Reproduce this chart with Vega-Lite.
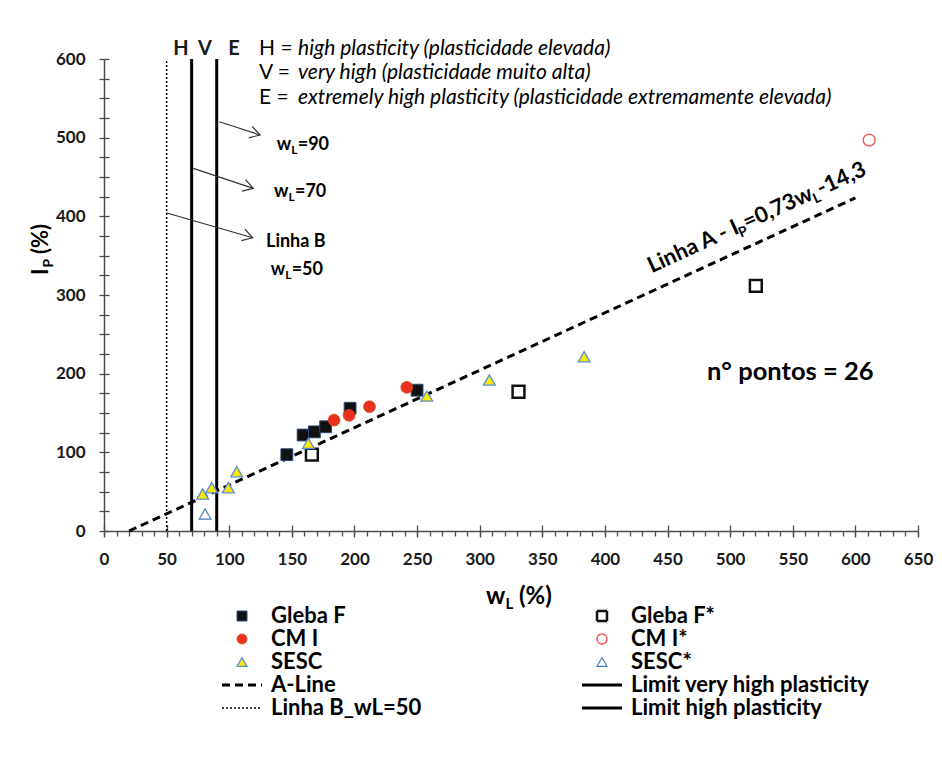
{
  "$schema": "https://vega.github.io/schema/vega-lite/v6.json",
  "width": 814,
  "height": 472,
  "autosize": {"type": "none"},
  "padding": {"left": 104, "top": 59, "right": 24, "bottom": 230},
  "background": "white",
  "config": {
    "view": {"stroke": null},
    "font": "Lato",
    "axis": {"labelFont": "Lato", "labelFontSize": 17, "labelFontWeight": "bold", "labelColor": "#1a1a1a", "domainColor": "#4d4d4d", "domainWidth": 1.5, "tickColor": "#4d4d4d", "tickWidth": 1.3, "grid": false, "title": null, "labelFlush": false, "labelOverlap": false},
    "legend": {"labelFont": "Lato", "labelFontSize": 22, "labelFontWeight": "bold", "labelColor": "#000000", "labelLimit": 400, "padding": 0}
  },
  "datasets": {
    "pts": [
      {"series": "Gleba F", "wL": 146, "IP": 97},
      {"series": "Gleba F", "wL": 159, "IP": 122},
      {"series": "Gleba F", "wL": 168, "IP": 126},
      {"series": "Gleba F", "wL": 177, "IP": 132.5},
      {"series": "Gleba F", "wL": 196.5, "IP": 156},
      {"series": "Gleba F", "wL": 250, "IP": 179},
      {"series": "Gleba F*", "wL": 166, "IP": 97},
      {"series": "Gleba F*", "wL": 331, "IP": 177},
      {"series": "Gleba F*", "wL": 520.5, "IP": 311.5},
      {"series": "CM I", "wL": 183.7, "IP": 141},
      {"series": "CM I", "wL": 195.7, "IP": 147},
      {"series": "CM I", "wL": 212, "IP": 158},
      {"series": "CM I", "wL": 241.8, "IP": 182.6},
      {"series": "CM I*", "wL": 611, "IP": 497},
      {"series": "SESC", "wL": 78.8, "IP": 47},
      {"series": "SESC", "wL": 86, "IP": 55},
      {"series": "SESC", "wL": 99.3, "IP": 55},
      {"series": "SESC", "wL": 106, "IP": 75.4},
      {"series": "SESC", "wL": 163.2, "IP": 111.4},
      {"series": "SESC", "wL": 257.7, "IP": 171.5},
      {"series": "SESC", "wL": 307.7, "IP": 192},
      {"series": "SESC", "wL": 383.4, "IP": 221.5},
      {"series": "SESC*", "wL": 80.7, "IP": 21.6}
    ],
    "lines": [
      {"series": "A-Line", "wL": 20, "IP": 0},
      {"series": "A-Line", "wL": 600, "IP": 423.4},
      {"series": "Linha B_wL=50", "wL": 50, "IP": 0},
      {"series": "Linha B_wL=50", "wL": 50, "IP": 600},
      {"series": "Limit high plasticity", "wL": 70, "IP": 0},
      {"series": "Limit high plasticity", "wL": 70, "IP": 600},
      {"series": "Limit very high plasticity", "wL": 90, "IP": 0},
      {"series": "Limit very high plasticity", "wL": 90, "IP": 600}
    ],
    "arrows": [
      {"wL": 92.1, "IP": 520.3, "wL2": 124.6, "IP2": 503.4},
      {"wL": 71.3, "IP": 461.0, "wL2": 119.2, "IP2": 435.6},
      {"wL": 49.5, "IP": 404.6, "wL2": 118.7, "IP2": 372.8}
    ],
    "heads": [
      {"wL": 124.6, "IP": 503.4},
      {"wL": 119.2, "IP": 435.6},
      {"wL": 118.7, "IP": 372.8}
    ],
    "hve": [
      {"wL": 61.5, "IP": 605, "label": "H"},
      {"wL": 80.7, "IP": 605, "label": "V"},
      {"wL": 103.8, "IP": 605, "label": "E"}
    ],
    "defs": [
      {"wL": 123.8, "IP": 605, "prefix": "H =", "label": "high plasticity (plasticidade elevada)"},
      {"wL": 123.8, "IP": 574, "prefix": "V =", "label": "very high (plasticidade muito alta)"},
      {"wL": 123.8, "IP": 542.8, "prefix": "E =", "label": "extremely high plasticity (plasticidade extremamente elevada)"}
    ],
    "wlabels": [
      {"wL": 137.9, "IP": 484.3, "rest": "=90"},
      {"wL": 135.7, "IP": 424.6, "rest": "=70"},
      {"wL": 133.1, "IP": 325.4, "rest": "=50"}
    ],
    "plain": [
      {"wL": 129.4, "IP": 361.4, "label": "Linha B", "size": "m"},
      {"wL": 481.5, "IP": 191.9, "label": "n° pontos = 26", "size": "l"}
    ],
    "xtitle": [{"wL": 305, "IP": -92.8}],
    "ytitle": [{"wL": -44.7, "IP": 325.4}],
    "aline": [{"wL": 437.3, "IP": 327.6}]
  },
  "resolve": {"axis": {"x": "independent", "y": "independent"}},
  "layer": [
    {
      "data": {"name": "lines"},
      "mark": {"type": "line"},
      "encoding": {
        "x": {"field": "wL", "type": "quantitative", "scale": {"domain": [0, 650], "nice": false, "zero": false},
              "axis": {"orient": "bottom", "values": [0,50,100,150,200,250,300,350,400,450,500,550,600,650], "tickSize": 6, "labelPadding": 14}},
        "y": {"field": "IP", "type": "quantitative", "scale": {"domain": [0, 600], "nice": false, "zero": false},
              "axis": {"orient": "left", "values": [0,25,50,75,100,125,150,175,200,225,250,275,300,325,350,375,400,425,450,475,500,525,550,575,600], "tickSize": 5, "labelPadding": 14, "labelExpr": "datum.value % 100 === 0 ? datum.label : ''"}},
        "stroke": {"field": "series", "type": "nominal",
          "scale": {"type": "ordinal", "domain": ["Gleba F","Gleba F*","CM I","CM I*","SESC","SESC*","A-Line","Limit very high plasticity","Linha B_wL=50","Limit high plasticity"],
                    "range": ["#2a4a7a","#111111","#cf4a1f","#f0504a","#5b8fd6","#4a7cc8","#000000","#000000","#000000","#000000"]},
          "legend": {"orient": "none", "legendX": 127, "legendY": 546, "direction": "horizontal", "columns": 2, "columnPadding": 154, "rowPadding": 1, "symbolSize": 100, "labelOffset": 18, "title": null}},
        "strokeDash": {"field": "series", "type": "nominal",
          "scale": {"type": "ordinal", "domain": ["Gleba F","Gleba F*","CM I","CM I*","SESC","SESC*","A-Line","Limit very high plasticity","Linha B_wL=50","Limit high plasticity"],
                    "range": [[1,0],[1,0],[1,0],[1,0],[1,0],[1,0],[8,5],[1,0],[2,2],[1,0]]},
          "legend": {"orient": "none", "legendX": 127, "legendY": 546, "direction": "horizontal", "columns": 2, "columnPadding": 154, "rowPadding": 1, "symbolSize": 100, "labelOffset": 18, "title": null}},
        "strokeWidth": {"field": "series", "type": "nominal",
          "scale": {"type": "ordinal", "domain": ["Gleba F","Gleba F*","CM I","CM I*","SESC","SESC*","A-Line","Limit very high plasticity","Linha B_wL=50","Limit high plasticity"],
                    "range": [1, 2.5, 0.8, 1.3, 1.3, 1.1, 3, 3, 1.5, 3]},
          "legend": {"orient": "none", "legendX": 127, "legendY": 546, "direction": "horizontal", "columns": 2, "columnPadding": 154, "rowPadding": 1, "symbolSize": 100, "labelOffset": 18, "title": null}}
      }
    },
    {
      "data": {"name": "arrows"},
      "mark": {"type": "rule", "color": "#333333", "strokeWidth": 1.2},
      "encoding": {
        "x": {"field": "wL", "type": "quantitative", "axis": {"orient": "bottom", "values": [0,50,100,150,200,250,300,350,400,450,500,550,600,650], "tickSize": -6, "labels": false, "domain": false}},
        "y": {"field": "IP", "type": "quantitative", "axis": null},
        "x2": {"field": "wL2"},
        "y2": {"field": "IP2"}
      }
    },
    {
      "data": {"name": "pts"},
      "mark": {"type": "point", "filled": true, "size": 140, "opacity": 1},
      "encoding": {
        "x": {"field": "wL", "type": "quantitative", "axis": {"orient": "bottom", "values": [0,10,20,30,40,50,60,70,80,90,100,110,120,130,140,150,160,170,180,190,200,210,220,230,240,250,260,270,280,290,300,310,320,330,340,350,360,370,380,390,400,410,420,430,440,450,460,470,480,490,500,510,520,530,540,550,560,570,580,590,600,610,620,630,640,650], "tickSize": 5, "labels": false, "domain": false}},
        "y": {"field": "IP", "type": "quantitative", "axis": {"orient": "left", "values": [0,25,50,75,100,125,150,175,200,225,250,275,300,325,350,375,400,425,450,475,500,525,550,575,600], "tickSize": -5, "labels": false, "domain": false}},
        "shape": {"field": "series", "type": "nominal",
          "scale": {"type": "ordinal", "domain": ["Gleba F","Gleba F*","CM I","CM I*","SESC","SESC*","A-Line","Limit very high plasticity","Linha B_wL=50","Limit high plasticity"],
                    "range": ["square","square","circle","circle","triangle-up","triangle-up","M -4 0 L 4 0","M -4 0 L 4 0","M -4 0 L 4 0","M -4 0 L 4 0"]},
          "legend": {"orient": "none", "legendX": 127, "legendY": 546, "direction": "horizontal", "columns": 2, "columnPadding": 154, "rowPadding": 1, "symbolSize": 100, "labelOffset": 18, "title": null}},
        "fill": {"field": "series", "type": "nominal",
          "scale": {"type": "ordinal", "domain": ["Gleba F","Gleba F*","CM I","CM I*","SESC","SESC*","A-Line","Limit very high plasticity","Linha B_wL=50","Limit high plasticity"],
                    "range": ["#111111","#ffffff","#e8321e","#ffffff","#f5ea00","#ffffff","transparent","transparent","transparent","transparent"]},
          "legend": {"orient": "none", "legendX": 127, "legendY": 546, "direction": "horizontal", "columns": 2, "columnPadding": 154, "rowPadding": 1, "symbolSize": 100, "labelOffset": 18, "title": null}},
        "stroke": {"field": "series", "type": "nominal",
          "scale": {"type": "ordinal", "domain": ["Gleba F","Gleba F*","CM I","CM I*","SESC","SESC*","A-Line","Limit very high plasticity","Linha B_wL=50","Limit high plasticity"],
                    "range": ["#2a4a7a","#111111","#cf4a1f","#f0504a","#5b8fd6","#4a7cc8","#000000","#000000","#000000","#000000"]},
          "legend": {"orient": "none", "legendX": 127, "legendY": 546, "direction": "horizontal", "columns": 2, "columnPadding": 154, "rowPadding": 1, "symbolSize": 100, "labelOffset": 18, "title": null}},
        "strokeWidth": {"field": "series", "type": "nominal",
          "scale": {"type": "ordinal", "domain": ["Gleba F","Gleba F*","CM I","CM I*","SESC","SESC*","A-Line","Limit very high plasticity","Linha B_wL=50","Limit high plasticity"],
                    "range": [1, 2.5, 0.8, 1.3, 1.3, 1.1, 3, 3, 1.5, 3]},
          "legend": {"orient": "none", "legendX": 127, "legendY": 546, "direction": "horizontal", "columns": 2, "columnPadding": 154, "rowPadding": 1, "symbolSize": 100, "labelOffset": 18, "title": null}}
      }
    },
    {
      "data": {"name": "heads"},
      "mark": {"type": "point", "shape": "M -1 -0.6 L 0 0 L -1 0.6", "size": 400, "angle": 17, "filled": false, "stroke": "#333333", "strokeWidth": 1.2, "opacity": 1},
      "encoding": {
        "x": {"field": "wL", "type": "quantitative", "axis": null},
        "y": {"field": "IP", "type": "quantitative", "axis": null}
      }
    },
    {
      "data": {"name": "hve"},
      "mark": {"type": "text", "font": "Lato", "fontSize": 20, "fontWeight": "bold", "align": "center", "baseline": "alphabetic", "color": "#1a1a1a"},
      "encoding": {
        "x": {"field": "wL", "type": "quantitative", "axis": null},
        "y": {"field": "IP", "type": "quantitative", "axis": null},
        "text": {"field": "label"}
      }
    },
    {
      "data": {"name": "defs"},
      "mark": {"type": "text", "font": "Lato", "fontSize": 21, "align": "left", "baseline": "alphabetic", "color": "#000000"},
      "encoding": {
        "x": {"field": "wL", "type": "quantitative", "axis": null},
        "y": {"field": "IP", "type": "quantitative", "axis": null},
        "text": {"field": "prefix"}
      }
    },
    {
      "data": {"name": "defs"},
      "mark": {"type": "text", "font": "Lato", "fontSize": 21, "fontStyle": "italic", "align": "left", "baseline": "alphabetic", "color": "#000000", "dx": 39},
      "encoding": {
        "x": {"field": "wL", "type": "quantitative", "axis": null},
        "y": {"field": "IP", "type": "quantitative", "axis": null},
        "text": {"field": "label"}
      }
    },
    {
      "data": {"name": "wlabels"},
      "mark": {"type": "text", "text": "w", "font": "Lato", "fontSize": 18, "fontWeight": "bold", "align": "left", "baseline": "alphabetic", "color": "#000000"},
      "encoding": {
        "x": {"field": "wL", "type": "quantitative", "axis": null},
        "y": {"field": "IP", "type": "quantitative", "axis": null}
      }
    },
    {
      "data": {"name": "wlabels"},
      "mark": {"type": "text", "text": "L", "font": "Lato", "fontSize": 12, "fontWeight": "bold", "align": "left", "baseline": "alphabetic", "color": "#000000", "dx": 14.5, "dy": 4},
      "encoding": {
        "x": {"field": "wL", "type": "quantitative", "axis": null},
        "y": {"field": "IP", "type": "quantitative", "axis": null}
      }
    },
    {
      "data": {"name": "wlabels"},
      "mark": {"type": "text", "font": "Lato", "fontSize": 18, "fontWeight": "bold", "align": "left", "baseline": "alphabetic", "color": "#000000", "dx": 21},
      "encoding": {
        "x": {"field": "wL", "type": "quantitative", "axis": null},
        "y": {"field": "IP", "type": "quantitative", "axis": null},
        "text": {"field": "rest"}
      }
    },
    {
      "data": {"name": "plain"},
      "mark": {"type": "text", "font": "Lato", "fontWeight": "bold", "align": "left", "baseline": "alphabetic", "color": "#000000"},
      "encoding": {
        "x": {"field": "wL", "type": "quantitative", "axis": null},
        "y": {"field": "IP", "type": "quantitative", "axis": null},
        "text": {"field": "label"},
        "size": {"field": "size", "type": "nominal", "scale": {"domain": ["m", "l"], "range": [18, 25.5]}, "legend": null}
      }
    },
    {
      "data": {"name": "xtitle"},
      "mark": {"type": "text", "text": "w", "font": "Lato", "fontSize": 24, "fontWeight": "bold", "align": "left", "baseline": "alphabetic", "color": "#000000"},
      "encoding": {
        "x": {"field": "wL", "type": "quantitative", "axis": null},
        "y": {"field": "IP", "type": "quantitative", "axis": null}
      }
    },
    {
      "data": {"name": "xtitle"},
      "mark": {"type": "text", "text": "L", "font": "Lato", "fontSize": 15, "fontWeight": "bold", "align": "left", "baseline": "alphabetic", "color": "#000000", "dx": 19.5, "dy": 5},
      "encoding": {
        "x": {"field": "wL", "type": "quantitative", "axis": null},
        "y": {"field": "IP", "type": "quantitative", "axis": null}
      }
    },
    {
      "data": {"name": "xtitle"},
      "mark": {"type": "text", "text": "(%)", "font": "Lato", "fontSize": 24, "fontWeight": "bold", "align": "left", "baseline": "alphabetic", "color": "#000000", "dx": 33},
      "encoding": {
        "x": {"field": "wL", "type": "quantitative", "axis": null},
        "y": {"field": "IP", "type": "quantitative", "axis": null}
      }
    },
    {
      "data": {"name": "ytitle"},
      "mark": {"type": "text", "text": "I", "angle": 270, "font": "Lato", "fontSize": 22, "fontWeight": "bold", "align": "left", "baseline": "alphabetic", "color": "#000000"},
      "encoding": {
        "x": {"field": "wL", "type": "quantitative", "axis": null},
        "y": {"field": "IP", "type": "quantitative", "axis": null}
      }
    },
    {
      "data": {"name": "ytitle"},
      "mark": {"type": "text", "text": "P", "angle": 270, "font": "Lato", "fontSize": 14, "fontWeight": "bold", "align": "left", "baseline": "alphabetic", "color": "#000000", "dx": 7.5, "dy": 5},
      "encoding": {
        "x": {"field": "wL", "type": "quantitative", "axis": null},
        "y": {"field": "IP", "type": "quantitative", "axis": null}
      }
    },
    {
      "data": {"name": "ytitle"},
      "mark": {"type": "text", "text": "(%)", "angle": 270, "font": "Lato", "fontSize": 22, "fontWeight": "bold", "align": "left", "baseline": "alphabetic", "color": "#000000", "dx": 21},
      "encoding": {
        "x": {"field": "wL", "type": "quantitative", "axis": null},
        "y": {"field": "IP", "type": "quantitative", "axis": null}
      }
    },
    {
      "data": {"name": "aline"},
      "mark": {"type": "text", "text": "Linha A - I", "angle": 335.4, "font": "Lato", "fontSize": 22, "fontWeight": "bold", "align": "left", "baseline": "alphabetic", "color": "#000000"},
      "encoding": {
        "x": {"field": "wL", "type": "quantitative", "axis": null},
        "y": {"field": "IP", "type": "quantitative", "axis": null}
      }
    },
    {
      "data": {"name": "aline"},
      "mark": {"type": "text", "text": "P", "angle": 335.4, "font": "Lato", "fontSize": 14, "fontWeight": "bold", "align": "left", "baseline": "alphabetic", "color": "#000000", "dx": 96, "dy": 5},
      "encoding": {
        "x": {"field": "wL", "type": "quantitative", "axis": null},
        "y": {"field": "IP", "type": "quantitative", "axis": null}
      }
    },
    {
      "data": {"name": "aline"},
      "mark": {"type": "text", "text": "=0,73w", "angle": 335.4, "font": "Lato", "fontSize": 22, "fontWeight": "bold", "align": "left", "baseline": "alphabetic", "color": "#000000", "dx": 105},
      "encoding": {
        "x": {"field": "wL", "type": "quantitative", "axis": null},
        "y": {"field": "IP", "type": "quantitative", "axis": null}
      }
    },
    {
      "data": {"name": "aline"},
      "mark": {"type": "text", "text": "L", "angle": 335.4, "font": "Lato", "fontSize": 14, "fontWeight": "bold", "align": "left", "baseline": "alphabetic", "color": "#000000", "dx": 178, "dy": 5},
      "encoding": {
        "x": {"field": "wL", "type": "quantitative", "axis": null},
        "y": {"field": "IP", "type": "quantitative", "axis": null}
      }
    },
    {
      "data": {"name": "aline"},
      "mark": {"type": "text", "text": "-14,3", "angle": 335.4, "font": "Lato", "fontSize": 22, "fontWeight": "bold", "align": "left", "baseline": "alphabetic", "color": "#000000", "dx": 186},
      "encoding": {
        "x": {"field": "wL", "type": "quantitative", "axis": null},
        "y": {"field": "IP", "type": "quantitative", "axis": null}
      }
    }
  ]
}
